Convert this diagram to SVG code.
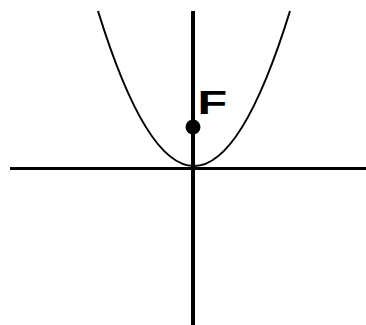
<svg xmlns="http://www.w3.org/2000/svg" width="366" height="325" viewBox="0 0 366 325">
  <style>
    .axis { stroke: #000; fill: none; }
    .curve { stroke: #000; stroke-width: 2; fill: none; }
    .label { font-family: "Liberation Sans", Arial, sans-serif; font-weight: bold; font-size: 33.5px; fill: #000; }
  </style>
  <rect width="366" height="325" fill="#fff"/>
  <g id="connectors">
    <line class="axis" x1="10" y1="168.5" x2="366" y2="168.5" stroke-width="3"/>
    <line class="axis" x1="193" y1="11" x2="193" y2="325" stroke-width="4"/>
  </g>
  <g id="parabola">
    <path class="curve" d="M98,11 Q194,321 290,11"/>
  </g>
  <g id="focus">
    <circle cx="193" cy="127" r="7.5" fill="#000"/>
    <text class="label" transform="translate(197.5,114) scale(1.45,1)" x="0" y="0">F</text>
  </g>
</svg>
